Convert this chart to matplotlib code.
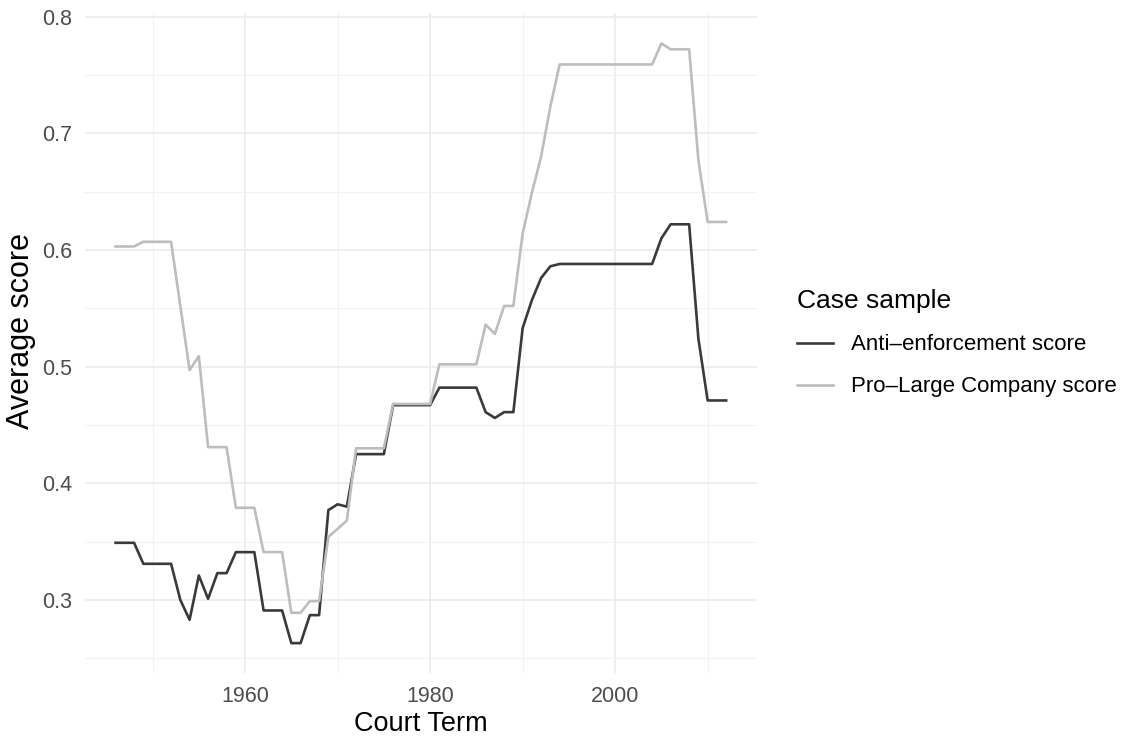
import matplotlib
matplotlib.use("Agg")
import matplotlib.pyplot as plt

plt.rcParams['font.family'] = ['Liberation Sans', 'DejaVu Sans']

# court terms 1946-2012
years = list(range(1946, 2013))

anti_enforcement = [
    0.349, 0.349, 0.349, 0.331, 0.331, 0.331, 0.331, 0.300, 0.283, 0.321,  # 1946-1955
    0.301, 0.323, 0.323, 0.341, 0.341, 0.341, 0.291, 0.291, 0.291, 0.263,  # 1956-1965
    0.263, 0.287, 0.287, 0.377, 0.382, 0.380, 0.425, 0.425, 0.425, 0.425,  # 1966-1975
    0.467, 0.467, 0.467, 0.467, 0.467, 0.482, 0.482, 0.482, 0.482, 0.482,  # 1976-1985
    0.461, 0.456, 0.461, 0.461, 0.533, 0.557, 0.576, 0.586, 0.588, 0.588,  # 1986-1995
    0.588, 0.588, 0.588, 0.588, 0.588, 0.588, 0.588, 0.588, 0.588, 0.610,  # 1996-2005
    0.622, 0.622, 0.622, 0.524, 0.471, 0.471, 0.471,                       # 2006-2012
]

pro_large_company = [
    0.603, 0.603, 0.603, 0.607, 0.607, 0.607, 0.607, 0.552, 0.497, 0.509,  # 1946-1955
    0.431, 0.431, 0.431, 0.379, 0.379, 0.379, 0.341, 0.341, 0.341, 0.289,  # 1956-1965
    0.289, 0.299, 0.299, 0.354, 0.361, 0.368, 0.430, 0.430, 0.430, 0.430,  # 1966-1975
    0.468, 0.468, 0.468, 0.468, 0.468, 0.502, 0.502, 0.502, 0.502, 0.502,  # 1976-1985
    0.536, 0.528, 0.552, 0.552, 0.614, 0.649, 0.680, 0.723, 0.759, 0.759,  # 1986-1995
    0.759, 0.759, 0.759, 0.759, 0.759, 0.759, 0.759, 0.759, 0.759, 0.777,  # 1996-2005
    0.772, 0.772, 0.772, 0.677, 0.624, 0.624, 0.624,                       # 2006-2012
]

series_names = ['Anti\u2013enforcement score', 'Pro\u2013Large Company score']
series_colors = ['#3a3a3a', '#bdbdbd']

x_major = [1960, 1980, 2000]
x_minor = [1950, 1970, 1990, 2010]
y_major = [0.3, 0.4, 0.5, 0.6, 0.7, 0.8]
y_minor = [0.25, 0.35, 0.45, 0.55, 0.65, 0.75]

fig = plt.figure(figsize=(11.25, 7.37), dpi=100)
ax = fig.add_axes([0.0756, 0.0862, 0.597, 0.896])

for vals, name, col in zip([anti_enforcement, pro_large_company], series_names, series_colors):
    ax.plot(years, vals, color=col, lw=1.9, label=name, solid_joinstyle='round', zorder=3)

ax.set_xlim(1942.7, 2015.3)
ax.set_ylim(0.237, 0.803)
ax.set_xticks(x_major)
ax.set_xticks(x_minor, minor=True)
ax.set_yticks(y_major)
ax.set_yticks(y_minor, minor=True)
ax.set_yticklabels([f'{v:.1f}' for v in y_major])

ax.grid(which='major', color='#ebebeb', lw=1.2)
ax.grid(which='minor', color='#f2f2f2', lw=0.8)
ax.set_axisbelow(True)
for s in ax.spines.values():
    s.set_visible(False)
ax.tick_params(which='both', length=0, labelsize=15.5, labelcolor='#4d4d4d', pad=9)

ax.set_xlabel('Court Term', fontsize=19.5, labelpad=3)
ax.set_ylabel('Average score', fontsize=22)
ax.yaxis.set_label_coords(-0.073, 0.519)

leg = ax.legend(loc='center left', bbox_to_anchor=(1.031, 0.5), frameon=False,
                title='Case sample', fontsize=16, title_fontsize=19,
                handlelength=1.6, handletextpad=0.8, labelspacing=0.95)
leg._legend_box.align = 'left'

plt.savefig('out.png', dpi=100)
